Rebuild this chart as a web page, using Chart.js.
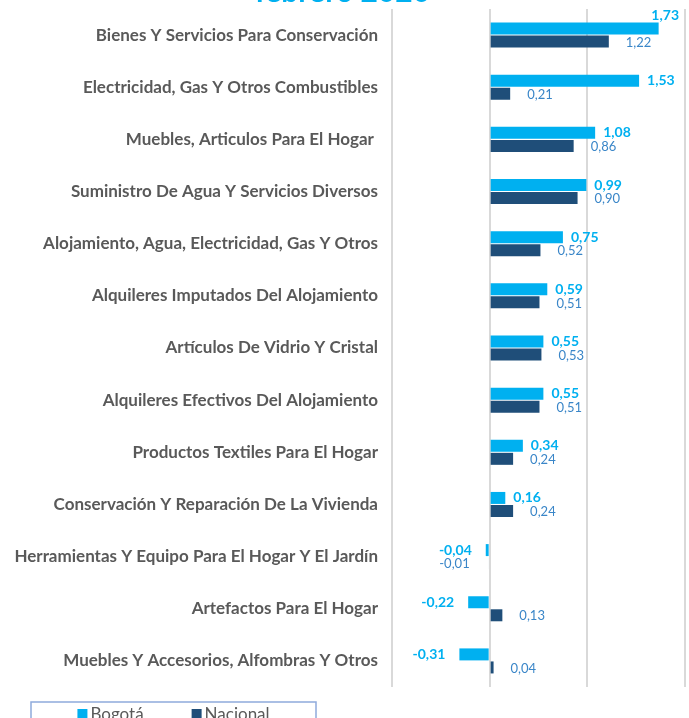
<!DOCTYPE html>
<html>
<head>
<meta charset="utf-8">
<script src="https://cdn.jsdelivr.net/npm/chart.js@4.4.1/dist/chart.umd.min.js"></script>
<style>
    html, body { margin: 0; padding: 0; background: #fff; overflow: hidden; }
    #wrap { position: absolute; left: 0; top: -40px; width: 689px; height: 790px; }
</style>
</head>
<body>
<div id="wrap"><canvas id="chart"></canvas></div>
<script>
const categories = [
    'Bienes Y Servicios Para Conservación',
    'Electricidad, Gas Y Otros Combustibles',
    'Muebles, Articulos Para El Hogar ',
    'Suministro De Agua Y Servicios Diversos',
    'Alojamiento, Agua, Electricidad, Gas Y Otros',
    'Alquileres Imputados Del Alojamiento',
    'Artículos De Vidrio Y Cristal',
    'Alquileres Efectivos Del Alojamiento',
    'Productos Textiles Para El Hogar',
    'Conservación Y Reparación De La Vivienda',
    'Herramientas Y Equipo Para El Hogar Y El Jardín',
    'Artefactos Para El Hogar',
    'Muebles Y Accesorios, Alfombras Y Otros'
];
const bogota = [1.73, 1.53, 1.08, 0.99, 0.75, 0.59, 0.55, 0.55, 0.34, 0.16, -0.04, -0.22, -0.31];
const nacional = [1.22, 0.21, 0.86, 0.90, 0.52, 0.51, 0.53, 0.51, 0.24, 0.24, -0.01, 0.13, 0.04];
const seriesNames = ['Bogotá', 'Nacional'];
const xMin = -1;
const xMax = 2;
const titleText = 'febrero 2020';

const CYAN = '#00B0F0';
const NAVY = '#1F4E79';
const fmt = v => v.toFixed(2).replace('.', ',');

// etiquetas de valor junto a cada barra
const valueLabels = {
    id: 'valueLabels',
    afterDatasetsDraw(chart) {
        const ctx = chart.ctx;
        ctx.save();
        ctx.textBaseline = 'middle';
        chart.data.datasets.forEach((ds, i) => {
            const meta = chart.getDatasetMeta(i);
            const bold = i === 0;
            ctx.font = bold ? 'bold 14px Lato' : '13px Lato';
            ctx.fillStyle = bold ? CYAN : '#3A86C8';
            const gapPos = bold ? 8 : 17;
            const gapNeg = bold ? 14 : 19;
            const dy = bold ? 0 : 1;
            meta.data.forEach((bar, j) => {
                const v = ds.data[j];
                const txt = fmt(v);
                const w = ctx.measureText(txt).width;
                let x, y = bar.y + dy;
                if (v >= 0) {
                    x = bar.x + gapPos;
                    if (x + w > chart.width - 10) {
                        x = chart.width - 10 - w;
                        y = bar.y - bar.height / 2 - 7;
                    }
                } else {
                    x = bar.x - gapNeg - w;
                }
                ctx.textAlign = 'left';
                ctx.fillText(txt, x, y);
            });
        });
        ctx.restore();
    }
};

// leyenda con recuadro, como en el original
const boxedLegend = {
    id: 'boxedLegend',
    afterDraw(chart) {
        const ctx = chart.ctx;
        const top = chart.chartArea.bottom + 15;
        const left = 31, right = 316;
        ctx.save();
        ctx.strokeStyle = '#8FAADC';
        ctx.lineWidth = 1.5;
        ctx.strokeRect(left, top, right - left, 40);
        ctx.font = '17px Lato';
        ctx.textBaseline = 'middle';
        const itemGap = 48;
        const widths = seriesNames.map(n => 13 + ctx.measureText(n).width);
        const total = widths.reduce((a, b) => a + b, 0) + itemGap;
        let x = (left + right) / 2 - total / 2;
        seriesNames.forEach((n, i) => {
            ctx.fillStyle = chart.data.datasets[i].backgroundColor;
            ctx.fillRect(x, top + 7, 10, 10);
            ctx.fillStyle = '#595959';
            ctx.fillText(n, x + 13, top + 13);
            x += widths[i] + itemGap;
        });
        ctx.restore();
    }
};

new Chart(document.getElementById('chart').getContext('2d'), {
    type: 'bar',
    data: {
        labels: categories,
        datasets: [
            { label: seriesNames[0], data: bogota, backgroundColor: CYAN },
            { label: seriesNames[1], data: nacional, backgroundColor: NAVY }
        ]
    },
    options: {
        indexAxis: 'y',
        responsive: true,
        maintainAspectRatio: false,
        animation: false,
        categoryPercentage: 0.5,
        barPercentage: 0.92,
        layout: { padding: { top: 17, left: 0, right: 4, bottom: 63 } },
        plugins: {
            legend: { display: false },
            tooltip: { enabled: false },
            title: {
                display: true,
                text: titleText,
                color: CYAN,
                font: { family: 'Lato', size: 30, weight: 'bold', lineHeight: 1 },
                padding: { top: 0, bottom: 2 }
            }
        },
        scales: {
            x: {
                min: xMin,
                max: xMax,
                ticks: { display: false, stepSize: 1 },
                grid: { color: '#D9D9D9', lineWidth: 2, drawTicks: false },
                border: { display: false },
                afterFit(scale) { scale.height = 0; }
            },
            y: {
                grid: { display: false, drawTicks: false },
                border: { display: false },
                ticks: {
                    color: '#595959',
                    padding: 14,
                    autoSkip: false,
                    font: { family: 'Lato', size: 17, weight: 'bold' }
                },
                afterFit(scale) { scale.width = 392; }
            }
        }
    },
    plugins: [valueLabels, boxedLegend]
});
</script>
</body>
</html>
